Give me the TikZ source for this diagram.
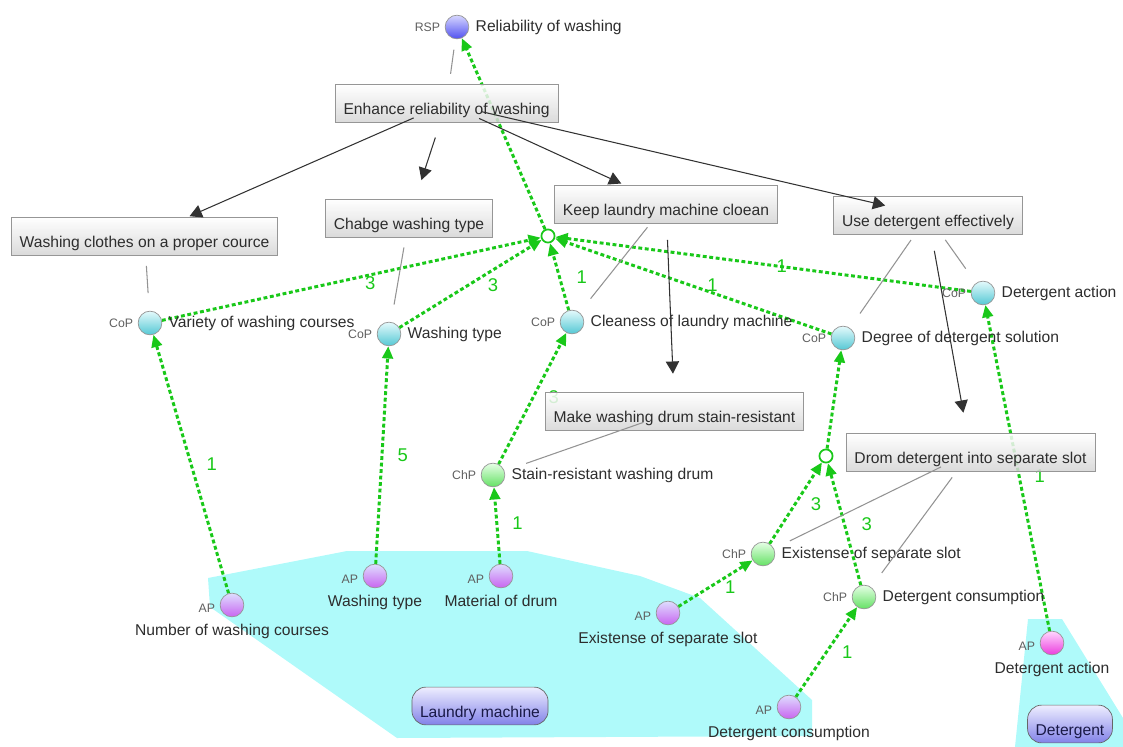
\documentclass[tikz,border=0pt]{standalone}
\usepackage{fontspec}
\setmainfont{Liberation Sans}
\usetikzlibrary{arrows.meta}

\pgfdeclarelayer{back}
\pgfdeclarelayer{links}
\pgfdeclarelayer{front}
\pgfsetlayers{back,links,main,front}

\definecolor{linkgreen}{RGB}{25,200,25}
\definecolor{areacyan}{RGB}{175,250,250}
\definecolor{textgray}{RGB}{45,45,45}
\definecolor{kindgray}{RGB}{95,95,95}
\definecolor{boxgray}{RGB}{212,212,212}
\definecolor{boxline}{RGB}{150,150,150}
\definecolor{arrowdark}{RGB}{50,50,50}
\definecolor{copTop}{RGB}{228,250,252}
\definecolor{copBot}{RGB}{85,200,212}
\definecolor{chpTop}{RGB}{230,255,230}
\definecolor{chpBot}{RGB}{100,225,100}
\definecolor{apTop}{RGB}{222,222,255}
\definecolor{apBot}{RGB}{200,100,240}
\definecolor{actTop}{RGB}{255,215,255}
\definecolor{actBot}{RGB}{235,60,220}
\definecolor{rspTop}{RGB}{215,215,255}
\definecolor{rspBot}{RGB}{80,80,240}
\definecolor{grpTop}{RGB}{238,238,255}
\definecolor{grpBot}{RGB}{130,130,232}
\definecolor{grpText}{RGB}{25,25,70}

\begin{document}
\begin{tikzpicture}[x=0.02cm, y=-0.02cm, label distance=2pt]

\tikzset{prop/.style = {circle, draw=boxline, minimum size=13.5pt, inner sep=0pt}}
\tikzset{cop/.style = {prop, top color=copTop, bottom color=copBot}}
\tikzset{chp/.style = {prop, top color=chpTop, bottom color=chpBot}}
\tikzset{ap/.style = {prop, top color=apTop, bottom color=apBot}}
\tikzset{act/.style = {prop, top color=actTop, bottom color=actBot}}
\tikzset{rsp/.style = {prop, top color=rspTop, bottom color=rspBot}}
\tikzset{junc/.style = {circle, draw=linkgreen, fill=white, line width=1pt, minimum size=7.5pt, inner sep=0pt}}
\tikzset{goal/.style = {rectangle, draw=boxline, top color=white, bottom color=boxgray, fill opacity=.85, text opacity=1, minimum height=21.5pt, inner xsep=4.8pt, text height=13pt, text depth=0pt, font=\fontsize{8.9}{10}\selectfont, text=textgray}}
\tikzset{groupbox/.style = {rectangle, rounded corners=8pt, draw=gray!80!black, top color=grpTop, bottom color=grpBot, minimum height=21.5pt, inner xsep=4.6pt, text height=13.5pt, text depth=0pt, font=\fontsize{8.9}{10}\selectfont, text=grpText}}
\tikzset{kind/.style = {font=\fontsize{7}{8}\selectfont, text=kindgray, inner sep=0.5pt}}
\tikzset{nametext/.style = {font=\fontsize{8.9}{10}\selectfont, text=textgray, inner sep=1.5pt}}
\tikzset{link/.style = {-{Triangle[length=7pt,width=6pt]}, draw=linkgreen, line width=1.7pt, dash pattern=on 2.2pt off 1.5pt}}
\tikzset{weight/.style = {font=\fontsize{10.5}{12}\selectfont, text=linkgreen, inner sep=0pt}}
\tikzset{refine/.style = {-{Triangle[length=7pt,width=7.5pt]}, draw=arrowdark, line width=0.6pt, shorten <=20.4pt}}
\tikzset{assoc/.style = {draw=gray!85, line width=0.6pt, shorten <=17pt, shorten >=17pt}}

\useasboundingbox (0,0) rectangle (1123,747);

%areas
\begin{pgfonlayer}{back}
\fill[areacyan] (208,578) -- (347,551) -- (527,551) -- (640,576) -- (700,598) -- (812,700) -- (812,736) -- (397,738) -- (210,607) -- cycle;
\fill[areacyan] (1028,619) -- (1062,619) -- (1123,718) -- (1123,747) -- (1015,747) -- cycle;
\end{pgfonlayer}

%parameters
\node[rsp, label={[kind]left:RSP}, label={[nametext]right:Reliability of washing}] (rsp) at (457,27) {};
\node[cop, label={[kind]left:CoP}, label={[nametext]right:Variety of washing courses}] (variety) at (150,323) {};
\node[cop, label={[kind]left:CoP}, label={[nametext]right:Washing type}] (wtcop) at (389,334) {};
\node[cop, label={[kind]left:CoP}, label={[nametext]right:Cleaness of laundry machine}] (clean) at (572,322) {};
\node[cop, label={[kind]left:CoP}, label={[nametext]right:Degree of detergent solution}] (degree) at (843,338) {};
\node[cop, label={[kind]left:CoP}, label={[nametext]right:Detergent action}] (actcop) at (983,293) {};
\node[chp, label={[kind]left:ChP}, label={[nametext]right:Stain-resistant washing drum}] (stain) at (493,475) {};
\node[chp, label={[kind]left:ChP}, label={[nametext]right:Existense of separate slot}] (slotchp) at (763,554) {};
\node[chp, label={[kind]left:ChP}, label={[nametext]right:Detergent consumption}] (conschp) at (864,597) {};
\node[ap, label={[kind, yshift=-2pt]left:AP}, label={[nametext]below:Number of washing courses}] (coursesap) at (232,605) {};
\node[ap, label={[kind, yshift=-2pt]left:AP}, label={[nametext]below:Washing type}] (wtap) at (375,576) {};
\node[ap, label={[kind, yshift=-2pt]left:AP}, label={[nametext]below:Material of drum}] (drumap) at (501,576) {};
\node[ap, label={[kind, yshift=-2pt]left:AP}, label={[nametext]below:Existense of separate slot}] (slotap) at (668,613) {};
\node[ap, label={[kind, yshift=-2pt]left:AP}, label={[nametext]below:Detergent consumption}] (consap) at (789,707) {};
\node[act, label={[kind, yshift=-2pt]left:AP}, label={[nametext]below:Detergent action}] (actap) at (1052,643) {};
\node[junc] (j1) at (548,236) {};
\node[junc] (j2) at (826,456) {};

%goals
\node[goal] (enhance) at (446.5,103.5) {Enhance reliability of washing};
\node[goal] (proper) at (144.5,236) {Washing clothes on a proper cource};
\node[goal] (chabge) at (409,218) {Chabge washing type};
\node[goal] (keep) at (666,204) {Keep laundry machine cloean};
\node[goal] (useeff) at (928,215.5) {Use detergent effectively};
\node[goal] (drumbox) at (674.5,411.5) {Make washing drum stain-resistant};
\node[goal] (slotbox) at (970.5,452.5) {Drom detergent into separate slot};
\node[groupbox] (machine) at (480,706) {Laundry machine};
\node[groupbox] (deterg) at (1070,724) {Detergent};

%contributions
\begin{pgfonlayer}{links}
\draw[link] (j1) -- (rsp);
\draw[link] (variety) -- node[weight, pos=.55, below] (w1) {3} (j1);
\draw[link] (wtcop) -- node[weight, pos=.6, below right=1pt] (w2) {3} (j1);
\draw[link] (clean) -- node[weight, pos=.5, right=9pt] (w3) {1} (j1);
\draw[link] (degree) -- node[weight, pos=.43, above] (w4) {1} (j1);
\draw[link] (actcop) -- node[weight, pos=.455] (w5) {1} (j1);
\draw[link] (coursesap) -- node[weight, pos=.5, right=8pt] (w6) {1} (variety);
\draw[link] (wtap) -- node[weight, pos=.5, right=8pt] (w7) {5} (wtcop);
\draw[link] (stain) -- node[weight, pos=.51, right=8pt] (w8) {3} (clean);
\draw[link] (drumap) -- node[weight, pos=.53, right=8pt] (w9) {1} (stain);
\draw[link] (j2) -- (degree);
\draw[link] (slotchp) -- node[weight, pos=.49, right=8pt] (w10) {3} (j2);
\draw[link] (conschp) -- node[weight, pos=.5, right=9pt] (w11) {3} (j2);
\draw[link] (slotap) -- node[weight, pos=.7, below=3pt] (w12) {1} (slotchp);
\draw[link] (consap) -- node[weight, pos=.5, right=8pt] (w13) {1} (conschp);
\draw[link] (actap) -- node[weight, pos=.475, right=8pt] (w14) {1} (actcop);
\end{pgfonlayer}

%refinements and associations
\begin{pgfonlayer}{front}
\draw[refine, shorten >=28pt] (enhance.center) -- (proper.center);
\draw[refine, shorten >=22.7pt] (enhance.center) -- (chabge.center);
\draw[refine, shorten >=28pt] (enhance.center) -- (keep.center);
\draw[refine, shorten >=25pt] (enhance.center) -- (useeff.center);
\draw[refine, shorten >=21.5pt] (keep.center) -- (drumbox.center);
\draw[refine, shorten >=23pt] (useeff.center) -- (slotbox.center);
\draw[assoc, shorten >=13pt] (enhance.center) -- (rsp.center);
\draw[assoc] (proper.center) -- (variety.center);
\draw[assoc] (chabge.center) -- (wtcop.center);
\draw[assoc] (keep.center) -- (clean.center);
\draw[assoc] (useeff.center) -- (degree.center);
\draw[assoc] (useeff.center) -- (actcop.center);
\draw[assoc, shorten <=18.7pt, shorten >=20pt] (drumbox.center) -- (stain.center);
\draw[assoc, shorten <=18.7pt] (slotbox.center) -- (slotchp.center);
\draw[assoc, shorten <=17.6pt] (slotbox.center) -- (conschp.center);
\end{pgfonlayer}

\end{tikzpicture}
\end{document}
